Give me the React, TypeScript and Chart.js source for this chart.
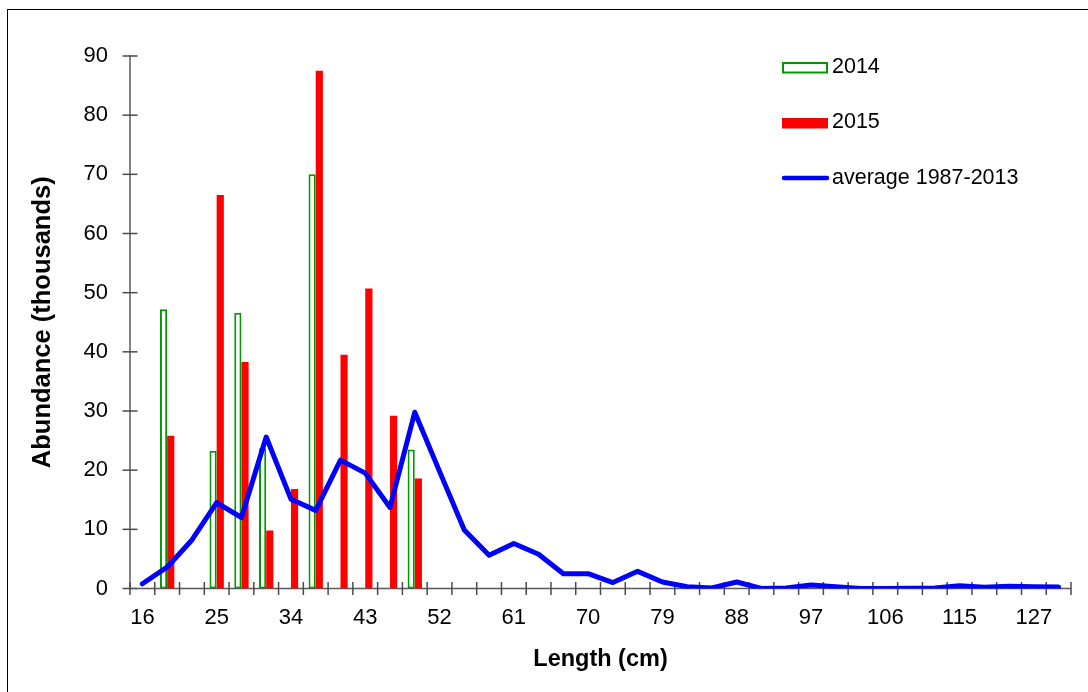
import React, { useEffect, useRef } from "react";
import { Chart, registerables } from "chart.js";

Chart.register(...registerables);

const FONT = "'Liberation Sans', Arial, sans-serif";

// Length classes (cm)
const lengthClasses = [
  "16", "19", "22", "25", "28", "31", "34", "37", "40", "43", "46", "49", "52",
  "55", "58", "61", "64", "67", "70", "73", "76", "79", "82", "85", "88", "91",
  "94", "97", "100", "103", "106", "109", "112", "115", "118", "121", "127", "130",
];

// Abundance (thousands) per length class
const abundance2014 = [
  0, 47.2, 0, 23.3, 46.6, 23.7, 0, 70.0, 0, 0, 0, 23.5, 0,
  0, 0, 0, 0, 0, 0, 0, 0, 0, 0, 0, 0, 0,
  0, 0, 0, 0, 0, 0, 0, 0, 0, 0, 0, 0,
];

const abundance2015 = [
  0, 25.8, 0, 66.5, 38.3, 9.8, 16.8, 87.5, 39.5, 50.7, 29.2, 18.6, 0,
  0, 0, 0, 0, 0, 0, 0, 0, 0, 0, 0, 0, 0,
  0, 0, 0, 0, 0, 0, 0, 0, 0, 0, 0, 0,
];

const average1987to2013 = [
  0.8, 3.6, 8.2, 14.5, 12.0, 25.6, 15.1, 13.2, 21.7, 19.5, 13.7, 29.8, 19.8,
  9.9, 5.6, 7.6, 5.8, 2.5, 2.5, 1.0, 2.9, 1.1, 0.3, 0.1, 1.1, 0,
  0.1, 0.6, 0.3, 0, 0, 0.05, 0.1, 0.45, 0.2, 0.4, 0.3, 0.25,
];

const yTicks = { min: 0, max: 90, step: 10 };

// Axis lines with crossing tick marks, plus the legend block.
const decorPlugin = {
  id: "decor",
  beforeDatasetsDraw(chart: any) {
    const { ctx, chartArea, scales } = chart;
    const { left, right, top, bottom } = chartArea;
    const ys = scales.y;
    ctx.save();
    ctx.lineCap = "butt";

    ctx.strokeStyle = "#858585";
    ctx.lineWidth = 2;
    ctx.beginPath();
    ctx.moveTo(left, top - 1);
    ctx.lineTo(left, bottom);
    ctx.stroke();

    ctx.strokeStyle = "#4a4a4a";
    ctx.lineWidth = 1.5;
    ys.ticks.forEach((t: any) => {
      const py = ys.getPixelForValue(t.value);
      ctx.beginPath();
      ctx.moveTo(left - 7.5, py);
      ctx.lineTo(left + 7.5, py);
      ctx.stroke();
    });

    ctx.strokeStyle = "#5a5a5a";
    ctx.lineWidth = 1.5;
    ctx.beginPath();
    ctx.moveTo(left, bottom);
    ctx.lineTo(right, bottom);
    ctx.stroke();

    const n = chart.data.labels.length;
    ctx.strokeStyle = "#4a4a4a";
    for (let i = 0; i <= n; i++) {
      const px = left + ((right - left) * i) / n;
      ctx.beginPath();
      ctx.moveTo(px, bottom - 6.5);
      ctx.lineTo(px, bottom + 6.5);
      ctx.stroke();
    }
    ctx.restore();
  },
  afterDraw(chart: any) {
    const { ctx } = chart;
    const ds = chart.data.datasets;
    ctx.save();
    ctx.font = `21.5px ${FONT}`;
    ctx.fillStyle = "#000000";
    ctx.textBaseline = "middle";
    ctx.textAlign = "left";

    // 2014: outlined box
    ctx.fillStyle = ds[0].backgroundColor;
    ctx.fillRect(782, 62, 46, 11);
    ctx.strokeStyle = ds[0].borderColor;
    ctx.lineWidth = 2;
    ctx.strokeRect(783, 63, 44, 9.5);
    ctx.fillStyle = "#000000";
    ctx.fillText(ds[0].label, 832, 67.5);

    // 2015: filled box
    ctx.fillStyle = ds[1].backgroundColor;
    ctx.fillRect(782, 118, 46, 10.5);
    ctx.fillStyle = "#000000";
    ctx.fillText(ds[1].label, 832, 122.5);

    // average: line sample
    ctx.strokeStyle = ds[2].borderColor;
    ctx.lineWidth = 4.5;
    ctx.lineCap = "round";
    ctx.beginPath();
    ctx.moveTo(784, 178);
    ctx.lineTo(827, 178);
    ctx.stroke();
    ctx.fillText(ds[2].label, 832, 178);
    ctx.restore();
  },
};

export default function App() {
  const canvasRef = useRef<HTMLCanvasElement>(null);

  useEffect(() => {
    const canvas = canvasRef.current;
    if (!canvas) return;
    const chart = new Chart(canvas, {
      type: "bar",
      data: {
        labels: lengthClasses,
        datasets: [
          {
            type: "bar",
            label: "2014",
            data: abundance2014,
            backgroundColor: "#ffffff",
            borderColor: "#009a00",
            borderWidth: 2,
            borderSkipped: false,
            order: 1,
          },
          {
            type: "bar",
            label: "2015",
            data: abundance2015,
            backgroundColor: "#ff0000",
            borderWidth: 0,
            order: 1,
          },
          {
            type: "line",
            label: "average 1987-2013",
            data: average1987to2013,
            borderColor: "#0000ff",
            backgroundColor: "#0000ff",
            borderWidth: 5,
            borderJoinStyle: "round",
            borderCapStyle: "round",
            pointRadius: 0,
            tension: 0,
            fill: false,
            order: 0,
          },
        ] as any,
      },
      options: {
        responsive: false,
        animation: false,
        layout: { padding: { left: 0, right: 17, top: 56, bottom: 0 } },
        datasets: { bar: { categoryPercentage: 0.58, barPercentage: 1 } } as any,
        plugins: {
          legend: { display: false },
          tooltip: { enabled: false },
        },
        scales: {
          x: {
            offset: true,
            grid: { display: false, drawTicks: false },
            border: { display: false },
            ticks: {
              autoSkip: false,
              maxRotation: 0,
              minRotation: 0,
              padding: 16.5,
              color: "#000000",
              font: { family: FONT, size: 22 },
              callback: (_v: any, i: number) => (i % 3 === 0 ? lengthClasses[i] : ""),
            },
            title: {
              display: true,
              text: "Length (cm)",
              color: "#000000",
              font: { family: FONT, size: 23.5, weight: "bold" },
              padding: { top: 0, bottom: 18 },
            },
            afterFit: (s: any) => {
              s.height = 103.5;
            },
          },
          y: {
            min: yTicks.min,
            max: yTicks.max,
            grid: { display: false, drawTicks: false },
            border: { display: false },
            ticks: {
              stepSize: yTicks.step,
              padding: 22,
              color: "#000000",
              font: { family: FONT, size: 22 },
            },
            title: {
              display: true,
              text: "Abundance (thousands)",
              color: "#000000",
              font: { family: FONT, size: 25.5, weight: "bold" },
              padding: { top: 28, bottom: 0 },
            },
            afterFit: (s: any) => {
              s.width = 130;
            },
          },
        },
      } as any,
      plugins: [decorPlugin],
    });
    return () => chart.destroy();
  }, []);

  return (
    <div
      style={{
        position: "absolute",
        left: 0,
        top: 0,
        width: 1088,
        height: 692,
        background: "#ffffff",
        overflow: "hidden",
      }}
    >
      <div
        style={{
          position: "absolute",
          left: 7,
          top: 9,
          width: 1200,
          height: 800,
          borderLeft: "1px solid #000000",
          borderTop: "1px solid #000000",
          boxSizing: "border-box",
        }}
      />
      <canvas
        ref={canvasRef}
        width={1088}
        height={692}
        style={{ position: "absolute", left: 0, top: 0, display: "block" }}
      />
    </div>
  );
}
